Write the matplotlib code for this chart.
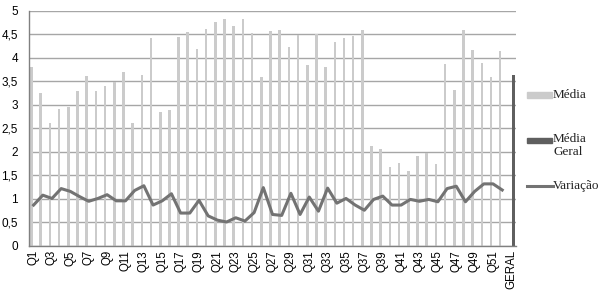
import matplotlib
matplotlib.use("Agg")
import matplotlib.pyplot as plt
import numpy as np
from matplotlib.patches import Rectangle
from matplotlib.lines import Line2D

categories = [f"Q{i}" for i in range(1, 53)] + ["GERAL"]
media = [3.81, 3.26, 2.62, 2.91, 2.96, 3.30, 3.61, 3.30, 3.41, 3.48,
         3.70, 2.62, 3.63, 4.43, 2.84, 2.89, 4.45, 4.55, 4.18, 4.62,
         4.75, 4.83, 4.68, 4.82, 4.53, 3.59, 4.57, 4.58, 4.23, 4.48,
         3.84, 4.50, 3.81, 4.33, 4.42, 4.46, 4.59, 2.13, 2.07, 1.68,
         1.77, 1.59, 1.92, 1.98, 1.74, 3.87, 3.31, 4.60, 4.16, 3.89,
         3.60, 4.14, 0]
media_geral = [0] * 52 + [3.63]
variacao = [0.87, 1.08, 1.01, 1.22, 1.16, 1.05, 0.95, 1.01, 1.09, 0.96,
            0.96, 1.18, 1.28, 0.87, 0.96, 1.11, 0.70, 0.70, 0.97, 0.64,
            0.55, 0.51, 0.60, 0.53, 0.71, 1.24, 0.67, 0.65, 1.12, 0.67,
            1.04, 0.74, 1.23, 0.91, 1.01, 0.87, 0.76, 0.99, 1.06, 0.87,
            0.87, 0.99, 0.95, 0.99, 0.94, 1.22, 1.27, 0.94, 1.16, 1.32,
            1.32, 1.19, np.nan]
yticks = [0, 0.5, 1, 1.5, 2, 2.5, 3, 3.5, 4, 4.5, 5]
ytick_labels = ["0", "0,5", "1", "1,5", "2", "2,5", "3", "3,5", "4", "4,5", "5"]
legend_labels = ["Média", "Média\nGeral", "Variação"]

W, H = 600, 300
fig = plt.figure(figsize=(6, 3), dpi=100)
ax = fig.add_axes([29/W, 1 - 246/H, (516 - 29)/W, (246 - 10.7)/H])

x = np.arange(len(categories))
light = "#cbcbcb"
dark = "#5f5f5f"
linec = "#737373"

ax.set_axisbelow(True)
ax.yaxis.grid(True, color="#a6a6a6", linewidth=1.0)
ax.bar(x - 0.22, media, width=0.28, color=light, zorder=2)
ax.bar(x + 0.22, media_geral, width=0.34, color=dark, zorder=2)
ax.plot(x, variacao, color=linec, linewidth=2.2, zorder=3)

ax.set_xlim(-0.5, len(categories) - 0.5)
ax.set_ylim(0, 5)
ax.set_yticks(yticks)
ax.set_yticklabels(ytick_labels, fontsize=8.5, family="Liberation Sans")
ax.set_xticks(x[::2])
ax.set_xticklabels(categories[::2], rotation=90, fontsize=8.3, family="Liberation Sans")
ax.tick_params(axis="both", length=0)
ax.tick_params(axis="y", pad=8)
ax.tick_params(axis="x", pad=3)

for s in ["top", "right"]:
    ax.spines[s].set_visible(False)
for s in ["left", "bottom"]:
    ax.spines[s].set_color("#808080")
    ax.spines[s].set_linewidth(1.0)

# legend drawn in figure pixel coordinates
def fx(px):
    return px / W

def fy(py):
    return 1 - py / H

fig.add_artist(Rectangle((fx(527), fy(98)), (552 - 527)/W, 6/H,
                         transform=fig.transFigure, color=light))
fig.add_artist(Rectangle((fx(527), fy(143)), (552 - 527)/W, 5.5/H,
                         transform=fig.transFigure, color=dark))
fig.add_artist(Line2D([fx(527), fx(553)], [fy(186), fy(186)],
                      transform=fig.transFigure, color=linec, linewidth=2.2))
tprops = dict(family="Liberation Serif", fontsize=9.5, color="#222222",
              ha="left")
fig.text(fx(553), fy(95), legend_labels[0], va="center", **tprops)
fig.text(fx(553), fy(133), legend_labels[1], va="top", linespacing=1.15, **tprops)
fig.text(fx(553), fy(186), legend_labels[2], va="center", **tprops)

fig.savefig("out.png", dpi=100)
